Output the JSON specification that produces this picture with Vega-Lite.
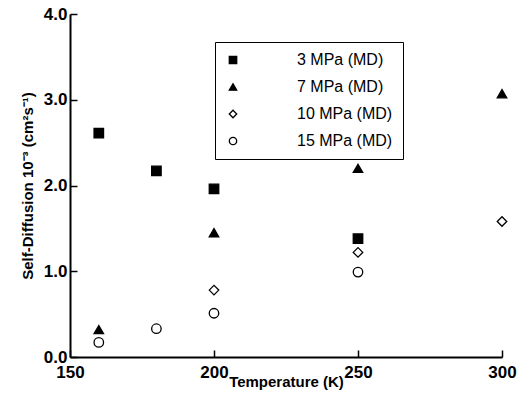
{
  "$schema": "https://vega.github.io/schema/vega-lite/v6.json",
  "width": 432,
  "height": 343,
  "autosize": "none",
  "padding": {"left": 70, "top": 14, "right": 20, "bottom": 38},
  "background": "white",
  "config": {
    "view": {"stroke": null},
    "font": "Liberation Sans",
    "axis": {"grid": false, "domainColor": "black", "domainWidth": 2, "tickColor": "black", "tickWidth": 1.5, "labelColor": "black", "titleColor": "black", "labelFont": "Liberation Sans", "titleFont": "Liberation Sans", "labelFlush": false, "labelOverlap": false}
  },
  "data": {"values": [
    {"T": 160, "D": 2.61, "s": "3 MPa (MD)"},
    {"T": 180, "D": 2.17, "s": "3 MPa (MD)"},
    {"T": 200, "D": 1.96, "s": "3 MPa (MD)"},
    {"T": 250, "D": 1.38, "s": "3 MPa (MD)"},
    {"T": 160, "D": 0.32, "s": "7 MPa (MD)"},
    {"T": 200, "D": 1.45, "s": "7 MPa (MD)"},
    {"T": 250, "D": 2.2, "s": "7 MPa (MD)"},
    {"T": 300, "D": 3.07, "s": "7 MPa (MD)"},
    {"T": 200, "D": 0.78, "s": "10 MPa (MD)"},
    {"T": 250, "D": 1.22, "s": "10 MPa (MD)"},
    {"T": 300, "D": 1.58, "s": "10 MPa (MD)"},
    {"T": 160, "D": 0.17, "s": "15 MPa (MD)"},
    {"T": 180, "D": 0.33, "s": "15 MPa (MD)"},
    {"T": 200, "D": 0.51, "s": "15 MPa (MD)"},
    {"T": 250, "D": 0.99, "s": "15 MPa (MD)"}
  ]},
  "mark": {"type": "point", "strokeWidth": 1.3, "opacity": 1, "size": 90},
  "encoding": {
    "x": {"field": "T", "type": "quantitative", "scale": {"domain": [150, 300], "nice": false},
      "axis": {"orient": "bottom", "values": [150, 200, 250, 300], "format": ".0f", "title": "Temperature (K)", "tickSize": -7, "labelFontSize": 17, "labelPadding": 14, "titleFontSize": 15, "titlePadding": -6, "labelFontWeight": "bold"}},
    "y": {"field": "D", "type": "quantitative", "scale": {"domain": [0, 4], "nice": false},
      "axis": {"orient": "left", "values": [0, 1, 2, 3, 4], "format": ".1f", "title": "Self-Diffusion 10⁻³ (cm²s⁻¹)", "tickSize": -7, "labelFontSize": 17, "labelPadding": 10, "titleFontSize": 15, "titlePadding": 8, "labelFontWeight": "bold"}},
    "shape": {"field": "s", "type": "nominal", "sort": null,
      "scale": {"domain": ["3 MPa (MD)", "7 MPa (MD)", "10 MPa (MD)", "15 MPa (MD)"], "range": ["square", "triangle-up", "diamond", "circle"]},
      "legend": {"title": null, "orient": "none", "legendX": 145, "legendY": 28, "strokeColor": "black", "padding": 10, "labelFontSize": 16, "labelOffset": 56, "rowPadding": 11, "symbolSize": 55, "symbolStrokeWidth": 1.3, "labelColor": "black"}},
    "fill": {"field": "s", "type": "nominal", "sort": null,
      "scale": {"domain": ["3 MPa (MD)", "7 MPa (MD)", "10 MPa (MD)", "15 MPa (MD)"], "range": ["black", "black", "white", "white"]},
      "legend": {"title": null, "orient": "none", "legendX": 145, "legendY": 28, "strokeColor": "black", "padding": 10, "labelFontSize": 16, "labelOffset": 56, "rowPadding": 11, "symbolSize": 55, "symbolStrokeWidth": 1.3, "labelColor": "black"}},
    "stroke": {"field": "s", "type": "nominal", "sort": null,
      "scale": {"domain": ["3 MPa (MD)", "7 MPa (MD)", "10 MPa (MD)", "15 MPa (MD)"], "range": ["black", "black", "black", "black"]},
      "legend": {"title": null, "orient": "none", "legendX": 145, "legendY": 28, "strokeColor": "black", "padding": 10, "labelFontSize": 16, "labelOffset": 56, "rowPadding": 11, "symbolSize": 55, "symbolStrokeWidth": 1.3, "labelColor": "black"}}
  }
}
